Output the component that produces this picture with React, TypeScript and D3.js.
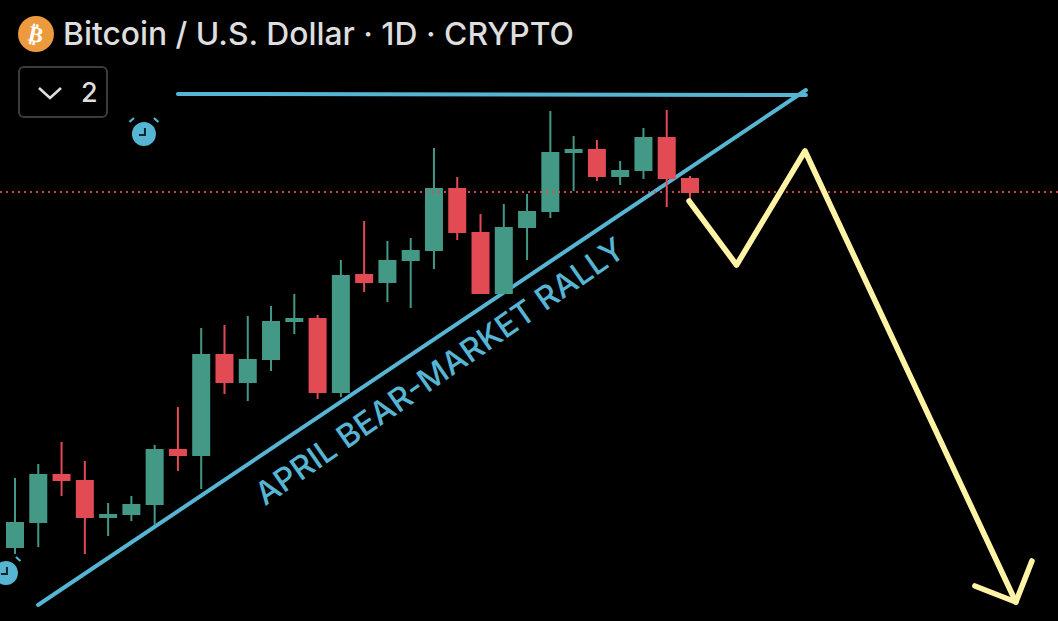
import React from "react";
import * as d3 from "d3";

const width = 1058;
const height = 621;

// daily candles
const opens = [39040, 39540, 40520, 40400, 39640, 39700, 39900, 41020, 40880, 42920, 42340, 42800, 43560, 43640, 42140, 44520, 44340, 44780, 44980, 46240, 45360, 44120, 45440, 45760, 46940, 47020, 46460, 46580, 47260, 46440];
const closes = [39560, 40520, 40380, 39640, 39720, 39920, 41020, 40880, 42920, 42340, 42820, 43580, 43640, 42140, 44500, 44340, 44800, 45000, 46240, 45340, 44120, 45460, 45780, 46960, 47020, 46460, 46600, 47260, 46420, 46140];
const highs = [40440, 40720, 41160, 40780, 39940, 40080, 41100, 41860, 43440, 43500, 43680, 43880, 44120, 43700, 44800, 45580, 45180, 45240, 47040, 46460, 45720, 45920, 46120, 47780, 47280, 47200, 46780, 47440, 47800, 46480];
const lows = [38920, 39060, 40080, 38920, 39280, 39580, 39500, 40580, 40220, 42120, 41980, 42580, 43320, 42020, 42060, 44160, 43960, 43840, 44620, 45200, 44120, 44120, 44800, 45640, 46180, 46380, 46300, 46420, 45860, 46000];

const lastPrice = 46160;

// drawings as [day index, price]
const trendLine: [number, number][] = [[0.99, 37900], [33.98, 48200]];
const topLine: [number, number][] = [[7.0, 48120], [33.98, 48100]];
const forecast: [number, number][] = [[28.96, 45980], [31.0, 44700], [33.94, 46980], [43.0, 37960]];
const arrowHead: [number, number][] = [[41.24, 38280], [43.0, 37960], [43.69, 38780]];
const alarms: [number, number][] = [[5.54, 47320], [-0.39, 38540]];
const labelAnchor: [number, number] = [18.24, 42580];

const x = d3.scaleLinear().domain([0, 29]).range([15, 690]);
const y = d3.scaleLinear().domain([50000, 37580]).range([0, 621]);
const line = d3.line<[number, number]>().x((d) => x(d[0])).y((d) => y(d[1]));

const green = "#439985";
const red = "#e24a54";
const blue = "#57b5d4";
const yellow = "#fff3a6";
const uiFont = "Inter, Roboto, sans-serif";

const Alarm = ({ cx, cy }: { cx: number; cy: number }) => (
  <g transform={`translate(${cx},${cy})`}>
    <circle r={12} fill={blue} />
    <path d="M1,-6V1H-5" fill="none" stroke="#0b2530" strokeWidth={2} />
    <path d="M-14.5,-12L-10,-16M14.5,-12L10,-16" stroke={blue} strokeWidth={2.2} />
  </g>
);

export default function App() {
  return (
    <svg
      width={width}
      height={height}
      style={{ position: "fixed", left: 0, top: 0, background: "#000" }}
    >
      <circle cx={36} cy={34} r={18} fill="#ec9a3e" />
      <text
        x={36}
        y={42}
        textAnchor="middle"
        fontFamily="DejaVu Sans"
        fontWeight="bold"
        fontSize={22}
        fill="#fff"
        transform="rotate(12 36 34)"
      >
        ₿
      </text>
      <text x={63} y={45} fontFamily={uiFont} fontSize={31.8} fontWeight={500} fill="#dedede">
        Bitcoin / U.S. Dollar · 1D · CRYPTO
      </text>

      <rect x={19} y={67} width={88} height={50} rx={5} fill="none" stroke="#3c3c3c" strokeWidth={2} />
      <path d="M39,88L50,98L61,88" fill="none" stroke="#dedede" strokeWidth={2.6} />
      <text x={81} y={102} fontFamily={uiFont} fontSize={27} fontWeight={500} fill="#dedede">
        2
      </text>

      {alarms.map((a, i) => (
        <Alarm key={i} cx={x(a[0])} cy={y(a[1])} />
      ))}

      <path d={line(trendLine)!} stroke={blue} strokeWidth={4} strokeLinecap="round" fill="none" />
      <path d={line(topLine)!} stroke={blue} strokeWidth={4} strokeLinecap="round" fill="none" />

      {opens.map((o, i) => {
        const c = closes[i];
        const col = c >= o ? green : red;
        return (
          <g key={i}>
            <line x1={x(i)} x2={x(i)} y1={y(highs[i])} y2={y(lows[i])} stroke={col} strokeWidth={2} />
            <rect
              x={x(i) - 9}
              y={y(Math.max(o, c))}
              width={18}
              height={Math.abs(y(o) - y(c))}
              fill={col}
            />
          </g>
        );
      })}

      <line
        x1={0}
        x2={width}
        y1={y(lastPrice)}
        y2={y(lastPrice)}
        stroke={red}
        strokeOpacity={0.9}
        strokeWidth={2}
        strokeDasharray="2 4"
      />

      <path d={line(forecast)!} stroke={yellow} strokeWidth={5.6} strokeLinecap="round" strokeLinejoin="round" fill="none" />
      <path d={line(arrowHead)!} stroke={yellow} strokeWidth={5.6} strokeLinecap="round" strokeLinejoin="round" fill="none" />

      <text
        transform={`translate(${x(labelAnchor[0])},${y(labelAnchor[1])}) rotate(-34.8)`}
        textAnchor="middle"
        dominantBaseline="central"
        fontFamily={uiFont}
        fontSize={32}
        fontWeight={500}
        fill={blue}
      >
        APRIL BEAR-MARKET RALLY
      </text>
    </svg>
  );
}
